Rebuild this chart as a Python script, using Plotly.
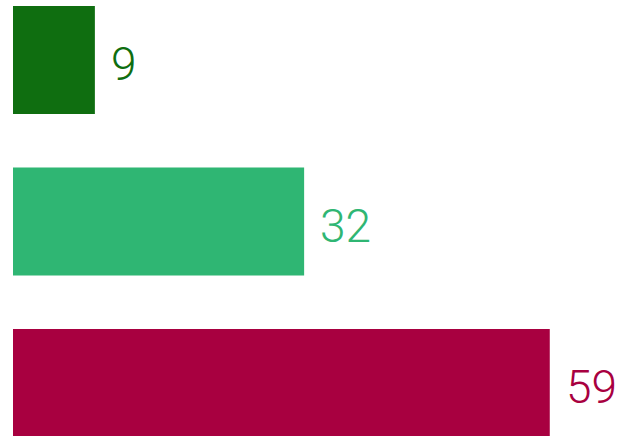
import plotly.graph_objects as go

categories = ["A", "B", "C"]
values = [9, 32, 59]
colors = ["#0f6e10", "#2fb673", "#a80040"]
labels = [str(v) for v in values]

fig = go.Figure()
fig.add_trace(go.Bar(
    x=values, y=categories, orientation="h",
    marker=dict(color=colors, line=dict(width=0)),
    width=0.67, hoverinfo="skip",
))
for v, c, lab, col in zip(values, categories, labels, colors):
    fig.add_annotation(x=v, y=c, text=lab, showarrow=False, xanchor="left",
                       yanchor="middle", xshift=14, yshift=-4,
                       font=dict(family="Roboto", size=46, color=col, weight=300))

fig.update_layout(
    width=618, height=436, margin=dict(l=13, r=0, t=0, b=0),
    paper_bgcolor="white", plot_bgcolor="white", showlegend=False,
    xaxis=dict(range=[0, 66.5], visible=False, fixedrange=True),
    yaxis=dict(type="category", categoryorder="array", categoryarray=categories,
               range=[2.328, -0.3715], visible=False, fixedrange=True),
)
fig.write_html("out.html", config={"displayModeBar": False},
               post_script="document.body.style.margin='0';document.body.style.overflow='hidden';")
